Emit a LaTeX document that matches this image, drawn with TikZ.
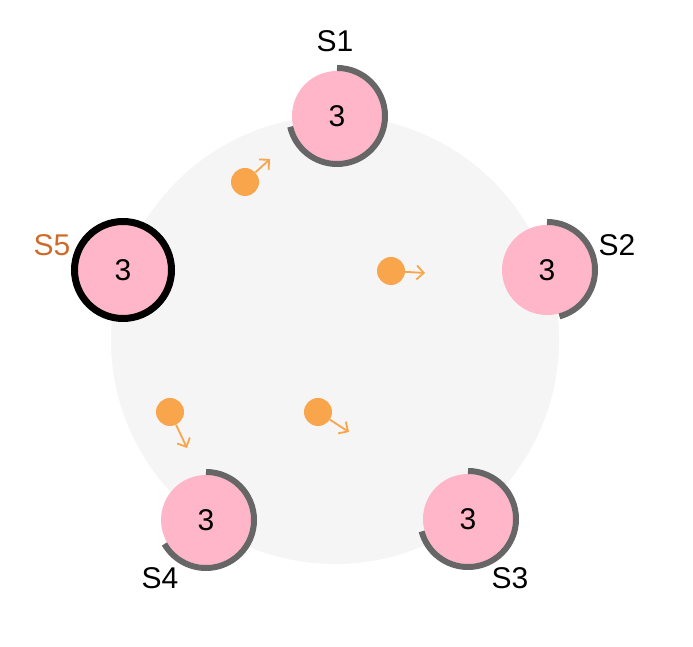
\documentclass[tikz,border=0pt]{standalone}
\usepackage{fontspec}
\setmainfont{Liberation Sans}
\usetikzlibrary{arrows.meta}

\definecolor{serverpink}{HTML}{FFB6C8}
\definecolor{timergray}{HTML}{666666}
\definecolor{msgorange}{HTML}{F9A54B}
\definecolor{labelorange}{HTML}{CF6B2A}
\definecolor{ringgray}{HTML}{F5F5F5}

\tikzset{
  server/.style={circle, fill=serverpink, minimum size=90pt, inner sep=0pt,
    font=\fontsize{30}{36}\selectfont},
  leader/.style={server, draw=black, line width=7pt, minimum size=97pt},
  timer/.style={timergray, line width=6pt},
  msg/.style={circle, fill=msgorange, minimum size=28pt, inner sep=0pt},
  vote/.style={msgorange, line width=1.8pt, -{Straight Barb[length=7pt,width=14pt]}},
  idlabel/.style={font=\fontsize{30}{36}\selectfont}
}

\begin{document}
\begin{tikzpicture}[x=1pt,y=1pt]
  \useasboundingbox (0,0) rectangle (693,647);
  \fill[ringgray] (335,307) circle (224pt);

  \node[server] (s1) at (337,531) {3};
  \node[server] (s2) at (547,377) {3};
  \node[server] (s3) at (468,128) {3};
  \node[server] (s4) at (206,127) {3};
  \node[leader] (s5) at (123,377) {3};

  \draw[timer] ([shift={(90:48pt)}]s1.center) arc[start angle=90, end angle=-167, radius=48pt];
  \draw[timer] ([shift={(90:48pt)}]s2.center) arc[start angle=90, end angle=-75, radius=48pt];
  \draw[timer] ([shift={(90:48pt)}]s3.center) arc[start angle=90, end angle=-165, radius=48pt];
  \draw[timer] ([shift={(90:48pt)}]s4.center) arc[start angle=90, end angle=-150, radius=48pt];

  \node[idlabel] (l1) at (335,606) {S1};
  \node[idlabel] (l2) at (617,402) {S2};
  \node[idlabel] (l3) at (510,69) {S3};
  \node[idlabel] (l4) at (160,69) {S4};
  \node[idlabel, labelorange] (l5) at (52,402) {S5};

  \node[msg] (m1) at (245,465) {};
  \node[msg] (m2) at (391,376) {};
  \node[msg] (m3) at (170,235) {};
  \node[msg] (m4) at (318,235) {};
  \coordinate (m1to) at (270,488);
  \coordinate (m2to) at (425,374);
  \coordinate (m3to) at (187,199);
  \coordinate (m4to) at (349,215);
  \draw[vote] (m1) -- (m1to);
  \draw[vote] (m2) -- (m2to);
  \draw[vote] (m3) -- (m3to);
  \draw[vote] (m4) -- (m4to);
\end{tikzpicture}
\end{document}
